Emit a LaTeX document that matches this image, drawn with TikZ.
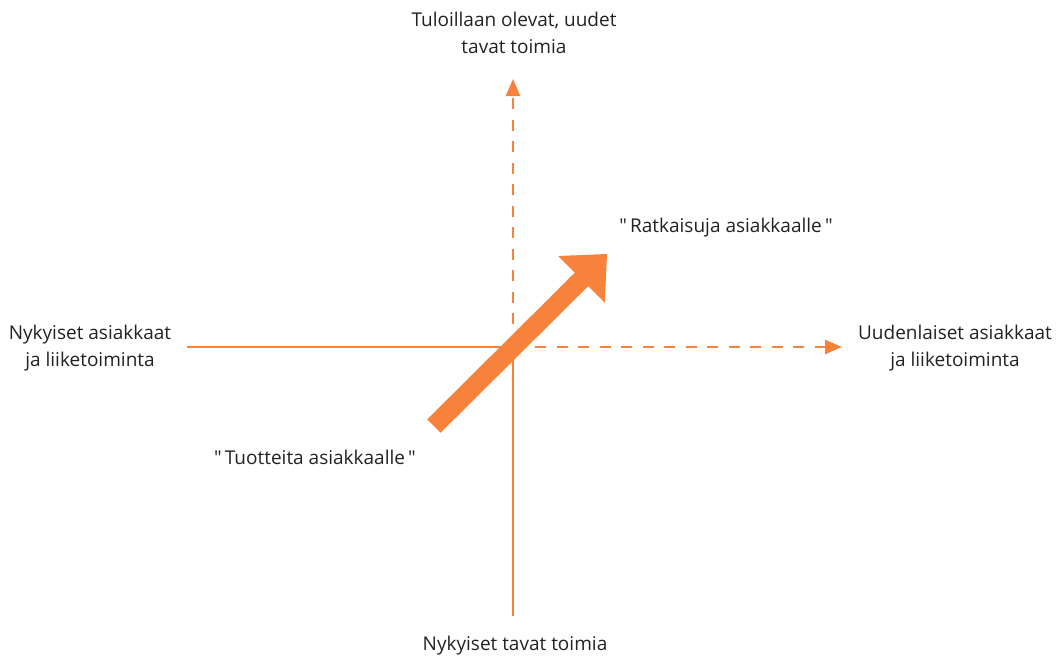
\documentclass[tikz,border=0pt]{standalone}
\usepackage{fontspec}
\setmainfont{Open Sans}[Ligatures=TeXOff]
\usetikzlibrary{arrows.meta}
\definecolor{accent}{RGB}{247,130,60}
\definecolor{txt}{RGB}{34,34,34}
\tikzset{
  axis/.style={draw=accent, line width=2.5pt},
  dashaxis/.style={draw=accent, line width=2.5pt, dash pattern=on 11pt off 10.5pt,
    -{Triangle[length=17pt,width=14pt]}},
  lbl/.style={text=txt, font=\fontsize{19pt}{27pt}\selectfont, align=center, inner sep=0pt},
}
\begin{document}
\begin{tikzpicture}[x=1pt,y=-1pt]
\useasboundingbox (0,0) rectangle (1062,656);
% coordinates
\coordinate (c) at (513,347);
\coordinate (vtip) at (513,79);
\coordinate (vstart) at (513,324);
\coordinate (vbot) at (513,616);
\coordinate (hleft) at (187,347);
\coordinate (hstart) at (535,347);
\coordinate (htip) at (842,347);
% labels
\node[lbl] (top) at (514,33) {Tuloillaan olevat, uudet\\tavat toimia};
\node[lbl, anchor=base] (bottom) at (515,650) {Nykyiset tavat toimia};
\node[lbl] (left) at (90,348) {Nykyiset asiakkaat\\ja liiketoiminta};
\node[lbl] (right) at (955,348) {Uudenlaiset asiakkaat\\ja liiketoiminta};
\node[lbl, anchor=base] (ratk) at (726,232) {"\,Ratkaisuja asiakkaalle\,"};
\node[lbl, anchor=base] (tuot) at (315,464) {"\,Tuotteita asiakkaalle\,"};
% axes
\draw[axis] (hleft) -- (c) -- (vbot);
\draw[dashaxis] (vstart) -- (vtip);
\draw[dashaxis] (hstart) -- (htip);
% big arrow
\fill[accent] (440.7,432.7) -- (427.3,419.3) -- (574.8,272.7) -- (558.2,256.0)
  -- (607,254) -- (604.8,302.8) -- (588.2,286.1) -- cycle;
\end{tikzpicture}
\end{document}
